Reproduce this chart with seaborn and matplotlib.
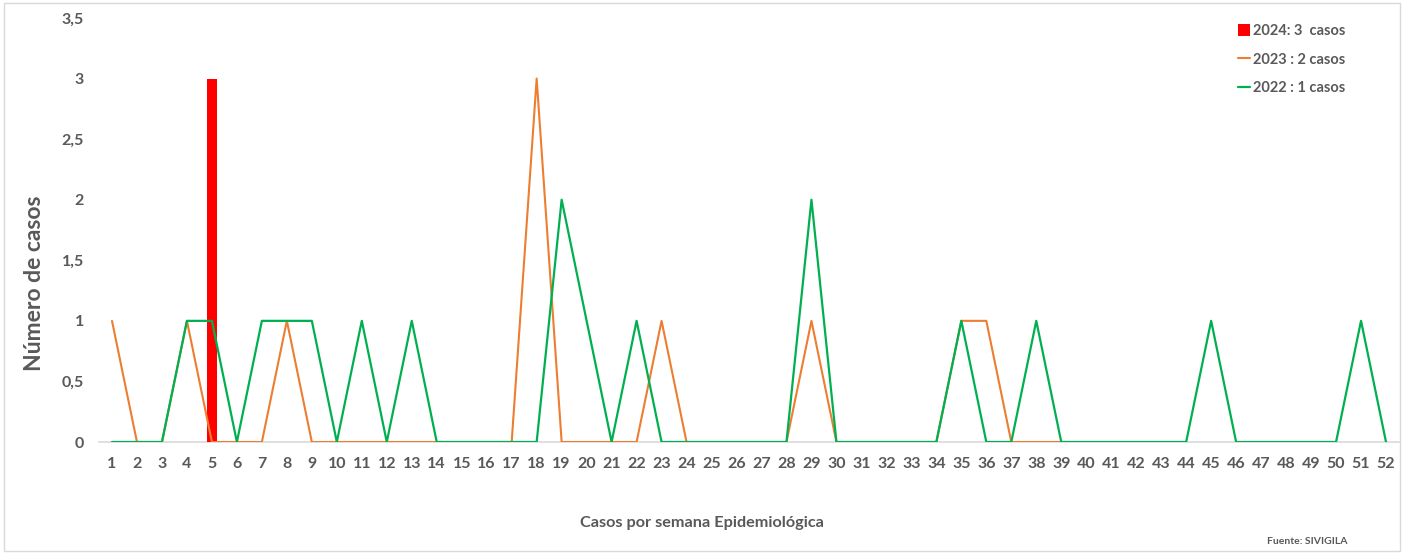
import matplotlib
matplotlib.use("Agg")
import matplotlib.pyplot as plt
from matplotlib.patches import Rectangle
import seaborn as sns
import numpy as np
import pandas as pd

weeks = list(range(1, 53))
weeks_2024 = [1, 2, 3, 4, 5]
cases_2024 = [0, 0, 0, 0, 3]
cases_2023 = [1, 0, 0, 1, 0, 0, 0, 1, 0, 0,
              0, 0, 0, 0, 0, 0, 0, 3, 0, 0,
              0, 0, 1, 0, 0, 0, 0, 0, 1, 0,
              0, 0, 0, 0, 1, 1, 0, 0, 0]
cases_2022 = [0, 0, 0, 1, 1, 0, 1, 1, 1, 0,
              1, 0, 1, 0, 0, 0, 0, 0, 2, 1,
              0, 1, 0, 0, 0, 0, 0, 0, 2, 0,
              0, 0, 0, 0, 1, 0, 0, 1, 0, 0,
              0, 0, 0, 0, 1, 0, 0, 0, 0, 0,
              1, 0]
label_2024 = "2024: 3  casos"
label_2023 = "2023 : 2 casos"
label_2022 = "2022 : 1 casos"
yticks = [0, 0.5, 1, 1.5, 2, 2.5, 3, 3.5]
ytick_labels = ["0", "0,5", "1", "1,5", "2", "2,5", "3", "3,5"]

sns.set_theme(style="white")
plt.rcParams['font.family'] = ['Lato', 'DejaVu Sans']
TXT = "#595959"

W, H = 1404, 553
fig = plt.figure(figsize=(W / 100, H / 100), dpi=100)
ax = fig.add_axes([99.5 / W, 1 - 442 / H, (1398.5 - 99.5) / W, (442 - 18) / H])

df24 = pd.DataFrame({"week": weeks_2024, "cases": cases_2024})
sns.barplot(data=df24, x="week", y="cases", native_scale=True, color="#FF0000",
            saturation=1, width=0.4, linewidth=0, label=label_2024, ax=ax, zorder=1)
sns.lineplot(x=weeks[:len(cases_2023)], y=cases_2023, color="#ED7D31", linewidth=1.5,
             label=label_2023, ax=ax, zorder=2)
sns.lineplot(x=weeks, y=cases_2022, color="#00B050", linewidth=1.6,
             label=label_2022, ax=ax, zorder=3)

ax.set_xlim(0.5, 52.5)
ax.set_ylim(0, 3.5)
ax.set_xticks(weeks)
ax.set_xticklabels([str(w) for w in weeks], fontsize=11.5, fontweight="bold", color=TXT)
ax.set_yticks(yticks)
ax.set_yticklabels(ytick_labels, fontsize=11.5, fontweight="bold", color=TXT)
ax.tick_params(axis="both", length=0)
ax.tick_params(axis="x", pad=11)
ax.tick_params(axis="y", pad=11)
for s in ["top", "right", "left"]:
    ax.spines[s].set_visible(False)
ax.spines["bottom"].set_color("#D9D9D9")
ax.spines["bottom"].set_linewidth(1.2)
ax.spines["bottom"].set_zorder(0)
ax.set_xlabel("")
ax.set_ylabel("")
ax.grid(False)

handles, labels = ax.get_legend_handles_labels()
order = [labels.index(label_2024), labels.index(label_2023), labels.index(label_2022)]
leg = ax.legend([handles[i] for i in order], [labels[i] for i in order],
                loc="upper left", bbox_to_anchor=(1225 / W, 1 - 11 / H),
                bbox_transform=fig.transFigure, frameon=False,
                handlelength=0.8, handleheight=0.8, handletextpad=0.2, labelspacing=1.0,
                prop={"family": "Lato", "weight": "bold", "size": 10.5})
for t in leg.get_texts():
    t.set_color(TXT)

fig.text(35 / W, 1 - 283 / H, "Número de casos", rotation=90, ha="center", va="center",
         fontsize=16.5, fontweight="bold", color=TXT)
fig.text(702 / W, 1 - 523 / H, "Casos por semana Epidemiológica", ha="center", va="center",
         fontsize=11.7, fontweight="bold", color=TXT)
fig.text(1307 / W, 1 - 541 / H, "Fuente: SIVIGILA", ha="center", va="center",
         fontsize=7.5, fontweight="bold", color=TXT)

fig.patches.append(Rectangle((4 / W, 2 / H), 1 - 8 / W, 1 - 5 / H, transform=fig.transFigure,
                             fill=False, edgecolor="#D9D9D9", linewidth=1))

fig.savefig("out.png", dpi=100)
